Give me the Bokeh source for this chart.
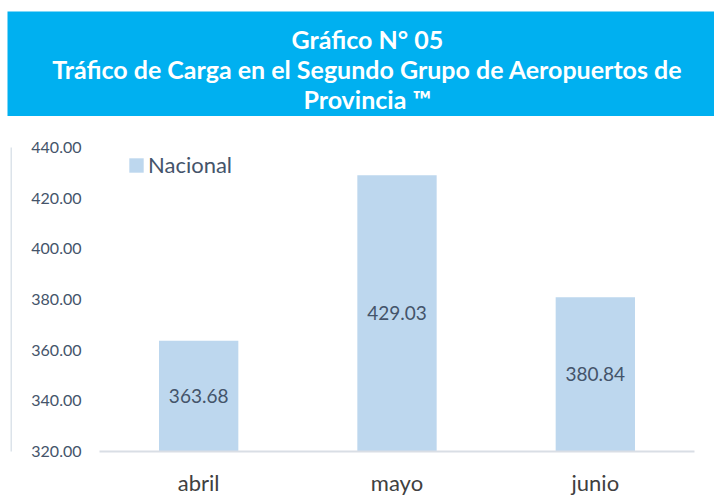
from bokeh.plotting import figure
from bokeh.layouts import column, row
from bokeh.models import (ColumnDataSource, FactorRange, Range1d, FixedTicker,
                          PrintfTickFormatter, Legend, LegendItem)
from bokeh.core.properties import value
from bokeh.embed import file_html
from bokeh.resources import INLINE

# ---- data ----
months = ["abril", "mayo", "junio"]
nacional = [363.68, 429.03, 380.84]
series_name = "Nacional"
title_lines = ["Gráfico N° 05",
               "Tráfico de Carga en el Segundo Grupo de Aeropuertos de",
               "Provincia ™"]
y_ticks = [320, 340, 360, 380, 400, 420, 440]
y_min, y_max = 320, 440

FONT = "Lato"
BLUE = "#00B0F0"
BAR = "#BDD7EE"
TXT = "#44546A"

# ---- title banner ----
t = figure(width=714, height=116, x_range=Range1d(0, 1), y_range=Range1d(0, 1),
           output_backend="svg", toolbar_location=None,
           min_border_left=7, min_border_right=0, min_border_top=11, min_border_bottom=0)
t.axis.visible = False
t.grid.visible = False
t.outline_line_color = None
t.background_fill_color = BLUE
t.border_fill_color = "white"
tsrc = ColumnDataSource(dict(x=[0.509, 0.509, 0.509], y=[0.735, 0.448, 0.162], text=title_lines))
t.text(x="x", y="y", text="text", source=tsrc, text_align="center", text_baseline="middle",
       text_color="white", text_font=value(FONT), text_font_style="bold", text_font_size="25px")

# ---- left border strip ----
s = figure(width=12, height=382, x_range=Range1d(0, 1), y_range=Range1d(0, 1),
           output_backend="svg", toolbar_location=None,
           min_border_left=10, min_border_right=0, min_border_top=0, min_border_bottom=0)
s.axis.visible = False
s.grid.visible = False
s.outline_line_color = None
s.background_fill_color = "#DCE3EA"
s.border_fill_color = "white"

# ---- chart ----
p = figure(width=702, height=382, x_range=FactorRange(*months, range_padding=0),
           y_range=Range1d(y_min, y_max), output_backend="svg", toolbar_location=None,
           min_border_left=87, min_border_right=20, min_border_top=31, min_border_bottom=47)
p.outline_line_color = None
p.grid.visible = False
p.background_fill_color = "white"
p.border_fill_color = "white"

src = ColumnDataSource(dict(x=months, top=nacional,
                            ymid=[(v + y_min) / 2 for v in nacional],
                            lab=["%.2f" % v for v in nacional]))
r = p.vbar(x="x", top="top", bottom=y_min, width=0.4, source=src,
           fill_color=BAR, line_color=None)
p.text(x="x", y="ymid", text="lab", source=src, text_align="center", text_baseline="middle",
       text_color=TXT, text_font=value(FONT), text_font_size="19px")

p.yaxis.ticker = FixedTicker(ticks=y_ticks)
p.yaxis.formatter = PrintfTickFormatter(format="%.2f")
p.yaxis.axis_line_color = None
p.yaxis.major_tick_line_color = None
p.yaxis.minor_tick_line_color = None
p.yaxis.major_tick_out = 0
p.yaxis.major_tick_in = 0
p.yaxis.minor_tick_out = 0
p.yaxis.major_label_text_font = FONT
p.yaxis.major_label_text_font_size = "16px"
p.yaxis.major_label_text_color = TXT
p.yaxis.major_label_standoff = 18

p.xaxis.axis_line_color = "#D9DEE5"
p.xaxis.axis_line_width = 2
p.xaxis.major_tick_line_color = None
p.xaxis.minor_tick_line_color = None
p.xaxis.major_tick_out = 0
p.xaxis.major_tick_in = 0
p.xaxis.minor_tick_out = 0
p.xaxis.major_label_text_font = FONT
p.xaxis.major_label_text_font_size = "22px"
p.xaxis.major_label_text_color = "#404040"
p.xaxis.major_label_standoff = 17

legend = Legend(items=[LegendItem(label=series_name, renderers=[r])],
                location=(28, 304 - 31), orientation="vertical",
                glyph_width=18, glyph_height=18, label_standoff=3, label_height=26,
                label_text_font=FONT, label_text_font_size="22px", label_text_color=TXT,
                label_text_baseline="middle",
                padding=0, margin=0, spacing=0, border_line_color=None,
                background_fill_alpha=0)
p.add_layout(legend)

layout = column(t, row(s, p, spacing=0), spacing=0)
open("out.html", "w").write(file_html(layout, INLINE))
